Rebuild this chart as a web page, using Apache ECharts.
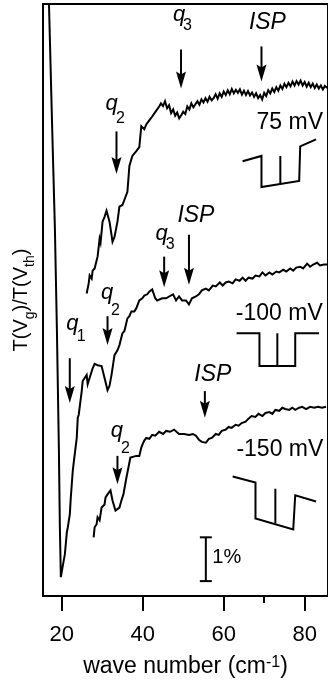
<!DOCTYPE html>
<html>
<head>
<meta charset="utf-8">
<script src="https://cdn.jsdelivr.net/npm/echarts@6.0.0/dist/echarts.min.js"></script>
<style>
  html, body { margin: 0; padding: 0; background: #fff; }
  #chart { width: 328px; height: 683px; }
</style>
</head>
<body>
<div id="chart"></div>
<script>
const FONT = "'Liberation Sans', Arial, sans-serif";
const INK = '#000';

// x axis: wave number (cm^-1); y axis: transmission ratio in %, traces offset
const xTicks = [20, 40, 60, 80];
const xMinorTicks = [70];

// 75 mV trace (top)
const curve75 = [
  [26.13, 6.91], [26.63, 7.14], [26.87, 7.32], [27.36, 7.25], [27.61, 7.43], [28.10, 7.48],
  [28.59, 7.66], [28.83, 7.75], [29.33, 8.16], [29.57, 8.07], [30.06, 8.55], [30.55, 8.66],
  [31.04, 8.80], [31.78, 8.55], [32.52, 8.09], [33.01, 8.20], [33.74, 8.55], [34.23, 8.89],
  [34.97, 8.93], [35.46, 8.95], [36.20, 9.23], [36.69, 9.82], [37.42, 10.05], [38.40, 10.16],
  [39.14, 10.25], [39.63, 10.73], [40.37, 10.66], [40.86, 10.77], [41.60, 10.86], [42.33, 10.95],
  [43.07, 11.05], [44.05, 11.18], [44.5, 11.25], [45.0, 11.19], [45.5, 11.30], [46.0, 11.14],
  [46.5, 11.21], [47.0, 11.03], [47.5, 11.11], [48.0, 10.97], [48.5, 11.04], [49.0, 10.91],
  [49.5, 10.98], [50.0, 11.06], [50.5, 11.01], [51.0, 11.18], [51.5, 11.11], [52.0, 11.25],
  [52.5, 11.16], [53.0, 11.23], [53.5, 11.30], [54.0, 11.22], [54.5, 11.34], [55.0, 11.27],
  [55.5, 11.37], [56.0, 11.29], [56.5, 11.40], [57.0, 11.32], [57.5, 11.37], [58.0, 11.46],
  [58.5, 11.36], [59.0, 11.48], [59.5, 11.40], [60.0, 11.52], [60.5, 11.44], [61.0, 11.55],
  [61.5, 11.46], [62.0, 11.58], [62.5, 11.48], [63.0, 11.56], [63.5, 11.49], [64.0, 11.57],
  [64.5, 11.45], [65.0, 11.54], [65.5, 11.44], [66.0, 11.53], [66.5, 11.43], [67.0, 11.50],
  [67.5, 11.40], [68.0, 11.48], [68.5, 11.37], [69.0, 11.44], [69.5, 11.34], [70.0, 11.49],
  [70.5, 11.42], [71.0, 11.55], [71.5, 11.48], [72.0, 11.59], [72.5, 11.51], [73.0, 11.62],
  [73.5, 11.54], [74.0, 11.66], [74.5, 11.58], [75.0, 11.70], [75.5, 11.62], [76.0, 11.72],
  [76.5, 11.64], [77.0, 11.75], [77.5, 11.66], [78.0, 11.76], [78.5, 11.68], [79.0, 11.77],
  [79.5, 11.66], [80.0, 11.74], [80.5, 11.63], [81.0, 11.72], [81.5, 11.62], [82.0, 11.70],
  [82.5, 11.60], [83.0, 11.68], [83.5, 11.59], [84.0, 11.66], [84.5, 11.57], [85.0, 11.65],
  [85.5, 11.61], [86.0, 11.63]
];

// -100 mV trace (middle, with the deep minimum near 20 cm^-1)
const curveM100 = [
  [16.56, 13.84], [16.81, 13.55], [17.55, 10.89], [18.28, 8.39], [18.77, 6.11], [19.26, 3.39],
  [19.51, 1.57], [19.75, 0.43], [20.25, 0.70], [20.74, 0.95], [21.23, 1.45], [21.47, 1.57],
  [21.96, 1.86], [22.21, 2.25], [22.70, 2.86], [22.94, 3.05], [23.68, 3.61], [23.93, 4.07],
  [24.17, 4.14], [24.91, 4.68], [25.15, 4.91], [25.64, 4.98], [26.13, 5.05], [26.38, 4.84],
  [26.87, 4.82], [27.61, 5.20], [28.10, 5.30], [28.83, 5.27], [29.82, 5.25], [30.55, 4.98],
  [31.29, 4.70], [31.78, 4.80], [32.27, 5.05], [33.01, 5.50], [33.74, 5.61], [34.23, 5.73],
  [34.97, 6.00], [35.46, 6.05], [36.20, 6.34], [36.69, 6.39], [37.18, 6.50], [37.91, 6.50],
  [38.40, 6.57], [39.14, 6.75], [39.88, 6.80], [40.37, 6.86], [41.10, 6.89], [41.60, 6.95],
  [42.33, 7.00], [42.82, 7.02], [43.07, 6.80], [43.56, 6.75], [44.79, 6.80], [45.77, 6.80],
  [46.50, 6.84], [47.48, 6.89], [48.22, 6.75], [48.96, 6.84], [49.69, 6.75], [50.67, 6.75],
  [51.41, 6.66], [52.15, 6.80], [53.13, 6.84], [53.87, 6.89], [54.60, 6.98], [55.58, 7.02],
  [56.32, 6.98], [57.30, 7.09], [58.04, 7.07], [59.02, 7.16], [59.75, 7.09], [60.49, 7.16],
  [61.23, 7.18], [62.21, 7.14], [62.94, 7.23], [63.93, 7.20], [64.66, 7.27], [65.40, 7.20],
  [66.13, 7.27], [67.12, 7.25], [67.85, 7.32], [68.83, 7.30], [69.57, 7.39], [70.31, 7.32],
  [71.29, 7.39], [72.02, 7.34], [73.01, 7.41], [73.74, 7.39], [74.72, 7.45], [75.46, 7.41],
  [76.44, 7.48], [77.18, 7.43], [77.91, 7.50], [78.90, 7.52], [79.63, 7.48], [80.61, 7.59],
  [81.35, 7.52], [82.09, 7.57], [83.07, 7.61], [83.80, 7.55], [84.79, 7.57], [85.52, 7.57]
];

// -150 mV trace (bottom)
const curveM150 = [
  [27.85, 1.34], [28.10, 1.57], [28.59, 1.64], [28.83, 1.80], [29.33, 1.73], [29.82, 2.02],
  [30.55, 2.09], [30.80, 2.25], [31.29, 2.32], [32.02, 2.41], [32.52, 2.18], [33.25, 1.95],
  [33.74, 1.98], [34.23, 2.02], [34.72, 2.18], [35.21, 2.32], [35.95, 2.70], [36.44, 2.93],
  [36.93, 3.16], [37.42, 3.20], [38.40, 3.20], [39.14, 3.20], [39.63, 3.39], [39.88, 3.45],
  [40.37, 3.55], [40.86, 3.61], [41.60, 3.59], [42.33, 3.68], [43.07, 3.66], [44.05, 3.75],
  [45.03, 3.70], [45.77, 3.77], [46.75, 3.75], [47.73, 3.80], [48.96, 3.70], [50.18, 3.70],
  [51.41, 3.68], [52.39, 3.70], [53.13, 3.66], [53.87, 3.57], [54.60, 3.52], [55.58, 3.50],
  [56.32, 3.59], [57.06, 3.61], [58.04, 3.70], [58.77, 3.68], [59.51, 3.77], [60.49, 3.80],
  [61.23, 3.86], [61.96, 3.84], [62.94, 3.91], [63.68, 3.89], [64.42, 3.95], [65.40, 3.98],
  [66.13, 4.05], [66.87, 4.11], [67.85, 4.09], [68.59, 4.16], [69.57, 4.11], [70.31, 4.18],
  [71.29, 4.20], [72.02, 4.16], [72.76, 4.25], [73.74, 4.23], [74.48, 4.30], [75.21, 4.27],
  [76.20, 4.25], [76.93, 4.30], [77.67, 4.25], [78.65, 4.30], [79.39, 4.32], [80.37, 4.27],
  [81.35, 4.32], [82.33, 4.30], [83.31, 4.32], [84.29, 4.30], [85.28, 4.32]
];

// arrows: [wave number, tail level, tip level]
const arrows = [
  [33.50, 10.61, 9.64], [49.45, 12.48, 11.59], [69.33, 12.55, 11.75],
  [21.96, 5.43, 4.41], [31.29, 6.39, 5.73], [45.28, 7.75, 7.05], [51.41, 8.25, 7.11],
  [33.74, 3.20, 2.55], [55.34, 4.68, 4.07]
];

// gate-voltage sketches beside each bias label
const gate75 = [[64.66, 9.93], [69.33, 10.05], [69.33, 9.34], [78.65, 9.48], [78.90, 10.27], [82.82, 10.43]];
const gate75Mid = [[73.99, 10.05], [73.99, 9.41]];
const gateM100 = [[63.19, 6.00], [68.83, 6.00], [68.83, 5.25], [77.67, 5.25], [77.67, 6.00], [83.56, 6.00]];
const gateM100Mid = [[73.25, 6.00], [73.25, 5.25]];
const gateM150 = [[62.21, 2.73], [67.85, 2.59], [67.85, 1.77], [77.18, 1.52], [77.67, 2.30], [82.82, 2.16]];
const gateM150Mid = [[72.76, 2.45], [72.76, 1.66]];

// 1% scale bar: [wave number, low, high]
const scaleBar = [[55.58, 0.34, 1.34]];

// text annotations: [text, wave number, level, kind]
const labels = [
  ['q', 32.27, 11.25, 'q'], ['2', 34.48, 10.91, 'sub'],
  ['q', 48.96, 13.28, 'q'], ['3', 51.04, 13.02, 'sub'],
  ['ISP', 70.80, 13.09, 'isp'], ['75 mV', 76.32, 10.80, 'mv'],
  ['q', 22.58, 6.22, 'q'], ['1', 24.79, 5.92, 'sub'],
  ['q', 31.17, 6.92, 'q'], ['2', 33.25, 6.52, 'sub'],
  ['q', 44.66, 8.28, 'q'], ['3', 46.75, 8.02, 'sub'],
  ['ISP', 53.13, 8.68, 'isp'], ['-100 mV', 73.74, 6.45, 'mv'],
  ['q', 33.62, 3.76, 'q'], ['2', 35.71, 3.36, 'sub'],
  ['ISP', 57.30, 5.06, 'isp'], ['-150 mV', 73.87, 3.35, 'mv'],
  ['1%', 60.74, 0.875, 'pct']
];

const fonts = {
  q: 'italic 22px ' + FONT,
  sub: '16px ' + FONT,
  isp: 'italic 23px ' + FONT,
  mv: '23px ' + FONT,
  pct: '20px ' + FONT
};

const stroke = { stroke: INK, lineWidth: 2 };

function trace(data) {
  return {
    type: 'line', data, symbol: 'none', showSymbol: false, silent: true,
    lineStyle: { color: INK, width: 2, join: 'miter' }, z: 3
  };
}

const chart = echarts.init(document.getElementById('chart'), null, { renderer: 'canvas' });

chart.setOption({
  animation: false,
  backgroundColor: '#fff',
  grid: {
    left: 43, right: -2, top: 4, bottom: 84,
    show: true, borderColor: INK, borderWidth: 2, backgroundColor: 'transparent'
  },
  xAxis: [{
    type: 'value', min: 15.34, max: 85.77, position: 'bottom',
    axisLine: { show: true, lineStyle: { color: INK, width: 2 } },
    axisTick: { show: true, customValues: xTicks, length: 15, lineStyle: { color: INK, width: 2 } },
    axisLabel: { customValues: xTicks, margin: 28, fontSize: 22, fontFamily: FONT, color: INK },
    splitLine: { show: false },
    name: '{m|wave number (cm}{p|-1}{m|)}',
    nameLocation: 'middle', nameGap: 59,
    nameTextStyle: {
      rich: {
        m: { fontSize: 23, fontFamily: FONT, color: INK, lineHeight: 30, verticalAlign: 'top' },
        p: { fontSize: 16, fontFamily: FONT, color: INK, lineHeight: 23, verticalAlign: 'top' }
      }
    }
  }, {
    type: 'value', min: 15.34, max: 85.77, position: 'bottom',
    axisLine: { show: false },
    axisTick: { show: true, customValues: xMinorTicks, length: 7, lineStyle: { color: INK, width: 2 } },
    axisLabel: { show: false },
    splitLine: { show: false }
  }],
  yAxis: {
    type: 'value', min: 0, max: 13.52,
    axisLine: { show: true, lineStyle: { color: INK, width: 2 } },
    axisTick: { show: false },
    axisLabel: { show: false },
    splitLine: { show: false },
    name: '{m|T(V}{s|g}{m|)/T(V}{s|th}{m|)}',
    nameLocation: 'middle', nameGap: 6,
    nameTextStyle: {
      rich: {
        m: { fontSize: 20, fontFamily: FONT, color: INK, lineHeight: 20, verticalAlign: 'top' },
        s: { fontSize: 14, fontFamily: FONT, color: INK, lineHeight: 26, verticalAlign: 'bottom' }
      }
    }
  },
  series: [
    trace(curve75),
    trace(curveM100),
    trace(curveM150),
    trace(gate75), trace(gate75Mid),
    trace(gateM100), trace(gateM100Mid),
    trace(gateM150), trace(gateM150Mid),
    {
      type: 'custom', data: arrows, encode: { x: 0, y: [1, 2] }, silent: true, z: 4,
      renderItem: (params, api) => {
        const tail = api.coord([api.value(0), api.value(1)]);
        const tip = api.coord([api.value(0), api.value(2)]);
        const x = tip[0];
        return {
          type: 'group',
          children: [
            { type: 'line', shape: { x1: x, y1: tail[1], x2: x, y2: tip[1] - 12 }, style: stroke },
            {
              type: 'polygon',
              shape: { points: [[x - 5, tip[1] - 17], [x, tip[1] - 14], [x + 5, tip[1] - 17], [x, tip[1]]] },
              style: { fill: INK }
            }
          ]
        };
      }
    },
    {
      type: 'custom', data: scaleBar, encode: { x: 0, y: [1, 2] }, silent: true, z: 4,
      renderItem: (params, api) => {
        const lo = api.coord([api.value(0), api.value(1)]);
        const hi = api.coord([api.value(0), api.value(2)]);
        const cap = 6;
        return {
          type: 'group',
          children: [
            { type: 'line', shape: { x1: lo[0], y1: lo[1], x2: hi[0], y2: hi[1] }, style: stroke },
            { type: 'line', shape: { x1: lo[0] - cap, y1: lo[1], x2: lo[0] + cap, y2: lo[1] }, style: stroke },
            { type: 'line', shape: { x1: hi[0] - cap, y1: hi[1], x2: hi[0] + cap, y2: hi[1] }, style: stroke }
          ]
        };
      }
    },
    {
      type: 'custom', data: labels.map((l, i) => [l[1], l[2], i]), encode: { x: 0, y: 1 },
      silent: true, z: 5,
      renderItem: (params, api) => {
        const lab = labels[api.value(2)];
        const p = api.coord([api.value(0), api.value(1)]);
        return {
          type: 'text', x: p[0], y: p[1],
          style: { text: lab[0], font: fonts[lab[3]], fill: INK, align: 'center', verticalAlign: 'middle' }
        };
      }
    }
  ]
});
</script>
</body>
</html>
